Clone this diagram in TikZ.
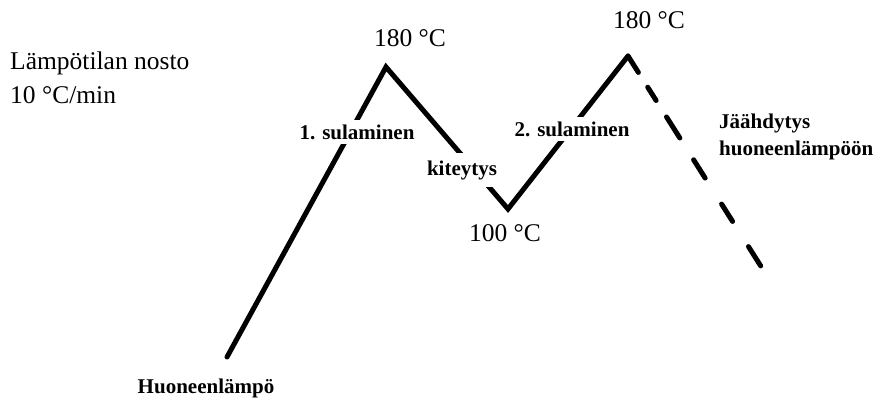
\documentclass[tikz,border=0pt]{standalone}
\usepackage{fontspec}
\setmainfont{Liberation Serif}
\usetikzlibrary{calc}

\tikzset{
  curve/.style={line width=5pt,line cap=round,line join=miter},
  lbl/.style={font=\fontsize{25.5}{34}\selectfont,inner sep=1pt},
  blbl/.style={font=\fontsize{21}{27}\selectfont\bfseries,fill=white,inner sep=5pt},
}

\begin{document}
\begin{tikzpicture}[x=1pt,y=-1pt]
\useasboundingbox (0,0) rectangle (886,401);

\coordinate (start) at (227,357);
\coordinate (peak1) at (386,67);
\coordinate (valley) at (508,209);
\coordinate (peak2) at (628,56);
\coordinate (stop) at (762,268);

\draw[curve] (start) -- (peak1) -- (valley) -- (peak2);
\draw[curve,dash pattern=on 19.4pt off 17.5pt on 15.7pt off 19.5pt on 24.9pt off 25.8pt
  on 21.6pt off 30.8pt on 20.5pt off 29.8pt on 22.8pt off 10pt] (peak2) -- (stop);

\node[blbl] (melt1) at (357,132) {1. sulaminen};
\node[blbl,inner sep=7pt] (cryst) at (462,170) {kiteytys};
\node[blbl] (melt2) at (572,129) {2. sulaminen};

\node[lbl] (top1) at (410,38) {180 °C};
\node[lbl] (top2) at (649,20) {180 °C};
\node[lbl] (low) at (505,233) {100 °C};
\node[lbl,anchor=west,align=left] (rate) at (9,78) {Lämpötilan nosto\\10 °C/min};
\node[blbl,fill=none,inner sep=1pt] (room) at (206,388) {Huoneenlämpö};
\node[blbl,fill=none,inner sep=1pt,anchor=west,align=left] (cool) at (718,137) {Jäähdytys\\huoneenlämpöön};
\end{tikzpicture}
\end{document}
